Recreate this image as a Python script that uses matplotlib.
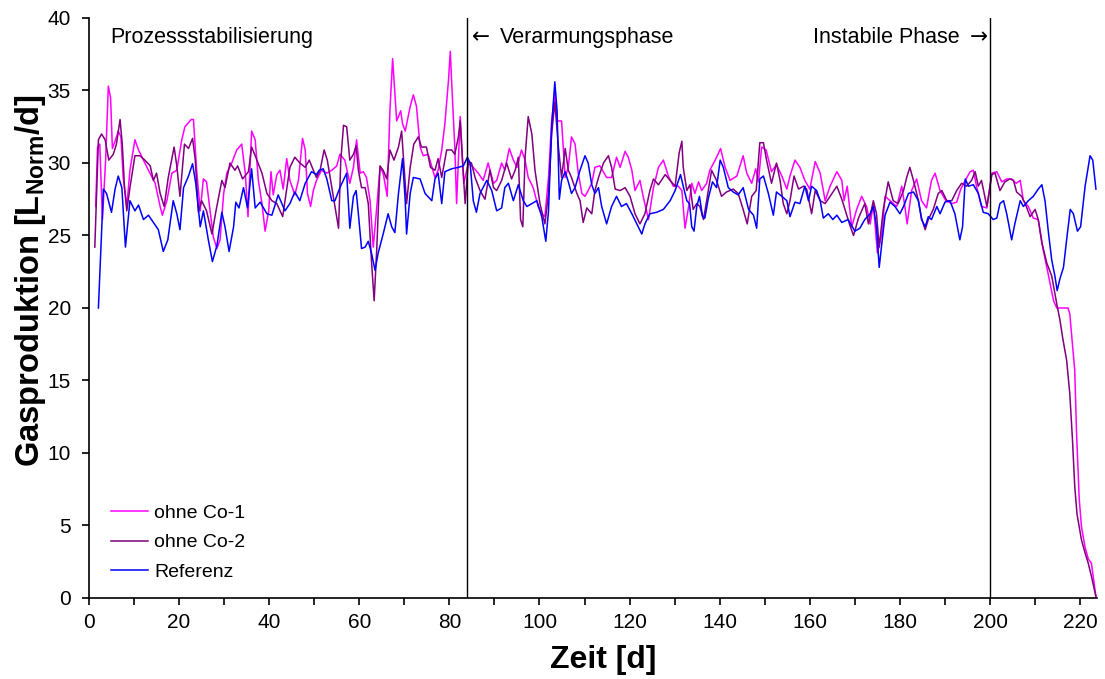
import matplotlib
matplotlib.use("Agg")
import matplotlib.pyplot as plt
from matplotlib.ticker import MultipleLocator

plt.rcParams['font.family'] = ['Liberation Sans', 'DejaVu Sans']
plt.rcParams['mathtext.fontset'] = 'custom'
plt.rcParams['mathtext.rm'] = 'Liberation Sans'
plt.rcParams['mathtext.bf'] = 'Liberation Sans:bold'

# ---------------- data ----------------
ref_day = [2.1, 3.2, 3.9, 5.0, 5.8, 6.5, 7.3, 8.1, 9.1, 10.2, 11.0, 12.1, 13.2, 14.3, 15.4, 16.5, 17.5, 18.7, 19.5, 20.2,
           21.0, 22.1, 23.0, 23.7, 24.7, 25.4, 26.5, 27.4, 28.4, 29.5, 30.2, 31.1, 32.1, 32.6, 33.3, 34.3, 35.2, 36.1, 36.9, 38.0,
           39.5, 40.6, 42.0, 43.5, 44.6, 45.7, 46.8, 48.0, 49.4, 50.5, 51.1, 52.0, 52.8, 53.9, 54.6, 55.7, 57.2, 57.9, 58.7, 59.3,
           59.8, 60.5, 61.3, 62.0, 62.7, 63.5, 64.2, 65.3, 66.4, 67.2, 67.9, 68.7, 69.6, 70.2, 70.5, 71.3, 72.0, 73.5, 74.6, 76.1,
           76.8, 77.5, 78.3, 79.0, 80.5, 82.0, 83.1, 84.0, 84.6, 85.3, 86.0, 86.8, 88.3, 89.4, 90.5, 91.6, 92.3, 93.1, 94.2, 95.3,
           96.4, 97.2, 98.3, 99.4, 100.5, 101.4, 102.0, 102.7, 103.4, 103.9, 104.4, 104.9, 105.7, 106.4, 107.1, 107.9, 109.0, 110.1, 110.8, 111.6,
           112.3, 113.1, 113.8, 114.9, 116.0, 117.1, 118.2, 119.3, 120.5, 121.6, 122.7, 123.4, 124.5, 126.0, 127.5, 129.0, 130.1, 131.3, 131.9, 132.7,
           133.3, 133.8, 134.3, 134.9, 135.5, 136.2, 136.7, 137.5, 138.4, 139.3, 140.1, 140.8, 141.9, 143.0, 144.1, 145.2, 146.4, 147.5, 148.2, 148.9,
           149.7, 150.8, 151.9, 152.6, 153.8, 154.9, 155.6, 156.7, 157.8, 158.9, 159.7, 160.4, 161.5, 162.3, 163.0, 164.1, 165.1, 166.0, 167.1, 168.5,
           170.0, 171.1, 172.2, 173.4, 174.1, 174.8, 175.4, 176.0, 176.7, 177.8, 178.9, 180.0, 180.8, 181.9, 183.0, 184.1, 184.8, 185.6, 186.3, 187.0,
           188.2, 188.9, 190.0, 191.1, 192.2, 193.3, 193.9, 194.5, 195.2, 196.3, 197.4, 198.5, 199.6, 200.7, 201.5, 202.2, 203.0, 203.7, 204.8, 205.5,
           206.7, 207.4, 208.5, 209.6, 210.7, 211.5, 212.2, 213.0, 213.7, 214.4, 214.9, 215.5, 216.3, 217.0, 217.8, 218.5, 219.4, 220.1, 221.1, 222.2,
           222.8, 223.5]
ref_val = [20.0, 28.2, 27.9, 26.6, 28.2, 29.1, 28.3, 24.2, 27.4, 26.7, 27.1, 26.1, 26.4, 25.9, 25.4, 23.9, 24.7, 27.4, 26.5, 25.4,
           28.3, 29.1, 29.95, 28.6, 25.6, 26.7, 24.7, 23.2, 24.3, 26.6, 25.6, 23.9, 25.6, 27.3, 26.9, 28.3, 26.9, 29.6, 26.9, 27.3,
           26.5, 26.4, 27.8, 26.7, 27.2, 28.0, 27.4, 28.6, 29.4, 29.2, 29.5, 29.6, 28.9, 27.4, 27.4, 28.3, 29.3, 25.5, 27.7, 28.1,
           26.5, 24.1, 24.2, 24.6, 23.8, 22.6, 23.8, 25.1, 26.5, 25.6, 25.2, 27.9, 30.3, 27.4, 25.1, 27.9, 29.0, 28.9, 27.9, 27.4,
           28.9, 29.3, 27.2, 29.4, 29.6, 29.7, 29.8, 30.4, 30.0, 27.4, 26.6, 27.9, 28.8, 28.1, 26.7, 26.9, 28.3, 28.6, 27.4, 28.5,
           27.4, 27.0, 27.2, 27.4, 26.3, 24.6, 26.7, 32.5, 35.6, 33.6, 27.5, 28.8, 29.4, 28.7, 27.9, 28.3, 29.5, 30.5, 30.0, 28.5,
           27.9, 28.3, 27.0, 25.8, 27.0, 27.7, 27.0, 27.2, 26.5, 25.8, 25.1, 25.8, 26.5, 26.6, 26.8, 27.4, 28.1, 29.2, 28.4, 27.4,
           27.2, 25.6, 25.3, 27.0, 27.7, 26.3, 26.2, 27.6, 28.7, 28.3, 30.2, 29.7, 28.3, 28.0, 27.8, 28.3, 26.8, 26.4, 25.5, 28.9,
           29.1, 27.9, 26.4, 28.0, 27.7, 27.4, 26.3, 27.3, 27.2, 28.4, 27.4, 28.4, 28.1, 27.4, 26.2, 26.5, 26.1, 26.4, 25.9, 26.1,
           25.3, 25.5, 26.1, 26.5, 27.0, 25.6, 22.8, 24.5, 26.4, 27.3, 27.0, 26.5, 27.0, 27.9, 28.0, 27.4, 26.1, 25.6, 26.3, 26.1,
           27.0, 26.5, 27.3, 27.4, 26.5, 24.7, 25.6, 28.9, 28.4, 28.5, 27.9, 26.6, 26.5, 26.1, 26.2, 27.2, 27.4, 26.5, 24.7, 25.8,
           27.4, 27.0, 27.4, 27.7, 28.2, 28.5, 27.4, 25.1, 23.3, 22.2, 21.2, 22.0, 22.8, 24.7, 26.8, 26.5, 25.3, 25.6, 28.4, 30.5,
           30.2, 28.2]

co1_day = [1.5, 1.9, 2.4, 3.0, 3.7, 4.3, 4.8, 5.2, 5.9, 6.5, 7.1, 7.6, 8.4, 9.1, 10.2, 11.0, 12.1, 13.2, 14.7, 15.8,
           16.3, 17.3, 18.4, 19.5, 20.6, 21.3, 22.7, 23.2, 23.9, 24.7, 25.4, 26.1, 26.9, 27.6, 28.4, 29.1, 29.9, 30.6, 31.7, 32.8,
           33.9, 34.7, 35.3, 36.1, 36.9, 37.6, 38.4, 39.1, 39.9, 40.4, 40.9, 41.7, 42.4, 43.1, 43.9, 44.6, 45.7, 46.5, 47.4, 48.0,
           48.5, 49.2, 49.8, 50.5, 51.6, 52.8, 53.9, 55.0, 55.7, 56.8, 57.9, 58.7, 59.4, 60.2, 60.9, 61.6, 62.4, 63.1, 63.9, 64.6,
           65.3, 66.2, 66.8, 67.4, 67.9, 68.3, 69.2, 69.6, 70.2, 71.3, 72.0, 72.7, 73.5, 74.2, 75.3, 76.8, 77.5, 78.3, 79.0, 79.8,
           80.2, 80.7, 81.2, 81.6, 82.4, 83.2, 84.2, 85.3, 86.4, 87.5, 88.6, 89.8, 90.5, 91.6, 92.3, 93.3, 94.2, 95.0, 96.0, 96.8,
           97.5, 98.6, 99.7, 100.5, 101.2, 102.0, 102.7, 103.4, 103.9, 104.9, 105.7, 106.4, 107.1, 107.9, 108.6, 109.4, 110.1, 110.8, 111.6, 112.3,
           113.4, 114.9, 116.0, 117.1, 117.9, 119.0, 119.7, 120.5, 121.2, 122.3, 123.0, 124.2, 125.3, 126.4, 127.5, 128.6, 129.7, 130.8, 131.6, 132.3,
           133.0, 133.8, 134.5, 135.3, 136.0, 137.1, 137.8, 139.0, 140.2, 141.2, 142.3, 143.8, 145.2, 146.0, 147.1, 148.0, 148.6, 149.3, 150.3, 151.5,
           152.6, 153.8, 154.9, 155.6, 156.7, 157.8, 158.9, 160.0, 161.2, 162.3, 163.4, 164.5, 166.0, 167.1, 167.6, 168.3, 169.3, 170.4, 171.5, 172.6,
           173.4, 174.1, 175.0, 176.0, 176.7, 177.8, 179.3, 180.4, 181.1, 181.6, 182.6, 183.7, 184.8, 185.9, 187.0, 187.8, 188.9, 190.2, 191.5, 192.6,
           193.5, 194.5, 195.6, 196.3, 197.0, 198.1, 199.3, 200.4, 201.5, 202.6, 203.7, 204.8, 205.8, 206.7, 207.4, 208.5, 209.6, 210.7, 211.8, 213.0,
           214.1, 214.8, 216.0, 217.3, 217.7, 218.8, 219.2, 219.8, 220.3, 221.1, 221.8, 222.5, 222.9, 223.5]
co1_val = [27.0, 31.1, 31.3, 26.1, 30.2, 35.3, 34.5, 31.0, 31.6, 32.2, 31.8, 29.0, 27.0, 29.5, 31.6, 30.9, 30.2, 29.5, 28.6, 27.0,
           26.4, 27.4, 29.3, 29.5, 31.6, 32.5, 33.0, 33.0, 29.5, 26.7, 28.9, 28.7, 26.7, 24.9, 24.1, 24.7, 27.9, 29.3, 30.0, 30.9,
           31.3, 29.3, 26.3, 32.2, 31.6, 28.8, 27.2, 25.3, 26.7, 29.4, 27.8, 29.2, 29.5, 28.2, 30.3, 28.8, 27.8, 28.8, 31.7, 30.9,
           27.9, 27.0, 28.1, 28.8, 29.5, 29.3, 29.5, 29.8, 30.6, 30.2, 28.6, 29.7, 31.6, 29.3, 29.4, 29.0, 27.4, 24.2, 27.0, 29.7,
           29.3, 27.7, 33.6, 37.2, 34.8, 32.9, 33.6, 32.7, 32.2, 33.9, 34.7, 33.9, 31.1, 30.5, 30.6, 29.0, 29.5, 30.9, 32.7, 35.7,
           37.7, 34.3, 31.1, 27.2, 33.2, 28.6, 30.0, 29.7, 29.3, 28.8, 30.0, 28.6, 28.8, 30.0, 29.5, 31.0, 30.2, 29.7, 30.9, 30.2,
           29.0, 28.3, 27.0, 26.5, 26.3, 29.0, 32.9, 34.8, 32.9, 32.9, 29.0, 29.7, 31.8, 31.3, 29.3, 27.9, 27.7, 28.1, 28.6, 29.7,
           29.8, 29.0, 29.0, 30.4, 29.7, 30.8, 30.4, 29.5, 28.1, 28.8, 27.7, 26.1, 28.3, 29.7, 30.2, 29.1, 28.4, 28.4, 28.1, 25.5,
           26.8, 28.6, 27.9, 28.7, 28.1, 28.6, 29.5, 30.2, 31.0, 29.7, 28.8, 29.1, 30.5, 29.3, 28.6, 29.6, 28.7, 31.1, 30.9, 29.4,
           29.9, 29.1, 28.2, 29.1, 30.2, 29.7, 28.8, 28.2, 30.1, 29.3, 27.4, 28.4, 29.4, 28.8, 27.4, 28.4, 25.6, 26.8, 27.7, 27.0,
           25.8, 27.2, 23.8, 25.1, 27.7, 27.4, 27.0, 28.4, 27.0, 25.8, 28.1, 28.9, 27.4, 26.9, 28.8, 29.3, 28.1, 27.4, 27.2, 27.3,
           28.2, 28.8, 29.4, 29.5, 28.4, 27.0, 26.9, 29.3, 29.4, 28.7, 28.9, 28.9, 28.6, 28.8, 27.4, 27.0, 26.2, 26.1, 24.0, 22.2,
           20.5, 20.0, 20.0, 20.0, 19.6, 15.7, 11.4, 6.8, 4.9, 3.5, 2.7, 2.4, 1.5, 0.1]

co2_day = [1.3, 2.1, 2.8, 3.6, 4.4, 5.4, 6.1, 6.9, 7.4, 7.9, 8.4, 9.1, 10.2, 11.3, 12.4, 13.6, 14.3, 15.0, 15.8, 16.7,
           17.6, 18.9, 19.5, 20.2, 21.2, 22.1, 23.0, 23.6, 24.3, 25.0, 26.1, 27.3, 28.2, 29.5, 30.2, 31.3, 32.4, 33.0, 34.1, 35.4,
           36.1, 36.9, 38.4, 39.5, 40.6, 41.7, 43.0, 43.9, 44.6, 45.7, 46.8, 48.0, 48.9, 49.8, 50.5, 51.3, 52.2, 52.9, 53.9, 54.6,
           55.4, 55.9, 56.5, 57.2, 57.9, 58.7, 59.3, 59.8, 60.5, 61.3, 62.0, 62.7, 63.3, 63.9, 64.6, 65.3, 66.1, 66.8, 67.7, 68.7,
           69.4, 70.0, 70.5, 71.3, 72.1, 73.1, 73.8, 74.9, 75.8, 76.8, 77.5, 78.3, 79.4, 80.5, 81.2, 82.0, 82.4, 82.9, 83.5, 84.2,
           84.9, 85.7, 86.8, 87.9, 89.0, 89.8, 90.5, 91.6, 92.7, 93.8, 94.6, 95.3, 95.8, 96.3, 96.8, 97.5, 98.3, 99.0, 100.1, 101.2,
           102.0, 102.7, 103.4, 104.2, 104.9, 105.7, 106.4, 107.1, 108.3, 109.0, 109.7, 110.5, 111.6, 112.3, 113.1, 114.2, 115.3, 116.0, 116.8, 117.9,
           119.0, 120.1, 121.2, 122.3, 123.4, 124.5, 125.3, 126.4, 127.9, 129.0, 130.1, 131.0, 131.6, 131.9, 132.7, 133.4, 134.1, 134.9, 135.6, 136.4,
           137.1, 138.2, 139.3, 140.4, 141.5, 143.0, 144.1, 145.2, 146.1, 147.1, 148.1, 148.9, 149.7, 150.4, 151.5, 152.6, 153.4, 154.1, 154.9, 155.6,
           156.5, 157.5, 158.6, 159.3, 160.4, 161.2, 162.3, 163.4, 164.5, 166.0, 167.1, 167.8, 168.9, 169.7, 170.8, 172.2, 173.0, 174.1, 174.8, 175.4,
           176.3, 177.4, 178.5, 179.6, 180.8, 181.5, 182.2, 183.0, 184.1, 184.8, 185.6, 186.3, 187.4, 188.5, 189.3, 190.4, 191.5, 192.6, 193.7, 194.8,
           195.9, 196.7, 197.4, 198.1, 199.3, 200.4, 201.1, 202.2, 203.3, 204.4, 205.2, 205.9, 207.0, 207.8, 208.9, 210.0, 210.7, 211.5, 212.6, 213.7,
           214.8, 215.5, 216.2, 217.0, 217.7, 218.3, 218.8, 219.3, 220.3, 221.1, 221.8, 222.5, 223.5]
co2_val = [24.2, 31.6, 32.0, 31.6, 30.2, 30.6, 31.3, 33.0, 31.3, 28.3, 26.7, 28.3, 30.5, 30.5, 30.2, 29.8, 28.8, 29.3, 27.9, 27.0,
           29.0, 31.1, 29.8, 27.7, 31.3, 31.0, 31.7, 30.2, 26.6, 27.4, 26.7, 25.1, 26.7, 28.8, 28.3, 30.0, 29.5, 29.8, 28.9, 29.4,
           31.1, 30.5, 29.3, 27.9, 27.4, 27.2, 26.3, 28.2, 29.7, 30.4, 30.0, 29.7, 30.2, 29.5, 29.0, 29.5, 30.9, 30.2, 28.3, 27.0,
           25.5, 30.2, 32.6, 32.5, 30.2, 30.6, 31.2, 29.5, 28.3, 28.3, 27.2, 23.3, 20.5, 24.2, 29.8, 29.5, 28.9, 30.9, 30.2, 31.1,
           32.2, 29.5, 27.2, 29.7, 31.3, 31.8, 31.1, 31.1, 29.7, 29.5, 30.3, 29.0, 30.9, 30.9, 30.6, 31.8, 32.9, 30.2, 27.2, 30.1,
           30.0, 29.0, 28.1, 27.5, 29.5, 28.3, 28.1, 28.8, 30.0, 28.9, 29.5, 30.4, 26.1, 25.6, 30.4, 33.2, 32.0, 29.5, 27.2, 25.8,
           27.9, 32.0, 34.2, 31.1, 29.0, 31.0, 29.5, 29.0, 27.9, 27.4, 25.9, 26.9, 26.5, 28.1, 29.0, 30.0, 30.5, 29.7, 28.2, 28.1,
           28.3, 27.7, 26.5, 25.8, 26.5, 28.1, 28.9, 28.5, 29.2, 28.8, 28.4, 30.7, 31.5, 29.7, 28.1, 28.5, 26.8, 27.2, 27.0, 26.1,
           27.4, 29.5, 28.8, 27.7, 28.0, 28.2, 27.9, 26.8, 25.8, 27.7, 28.1, 31.4, 31.4, 30.2, 28.6, 30.0, 28.8, 27.2, 26.5, 27.4,
           29.1, 28.2, 28.4, 28.2, 26.5, 28.1, 27.4, 27.2, 27.7, 28.4, 27.5, 26.8, 25.7, 25.0, 26.2, 27.2, 25.8, 27.4, 26.5, 24.2,
           26.8, 28.7, 27.4, 27.2, 28.1, 29.0, 29.7, 28.8, 27.4, 26.2, 25.4, 26.1, 26.8, 27.9, 28.1, 27.4, 27.4, 28.1, 28.6, 28.4,
           28.8, 29.4, 28.4, 28.8, 27.0, 29.2, 29.3, 28.1, 28.7, 28.9, 28.8, 28.0, 27.7, 27.2, 26.3, 26.8, 26.1, 24.5, 23.1, 22.2,
           20.3, 19.2, 17.8, 16.4, 14.1, 10.9, 7.7, 5.8, 4.0, 3.1, 2.4, 1.5, 0.1]

series_labels = ["ohne Co-1", "ohne Co-2", "Referenz"]
phase_bounds = [84, 200]
phase_texts = ["Prozessstabilisierung", "Verarmungsphase", "Instabile Phase"]
arrow_left = "\u2190"
arrow_right = "\u2192"

# ---------------- figure ----------------
fig = plt.figure(figsize=(11.05, 6.79), dpi=100)
ax = fig.add_axes([0.0805, 0.1193, 0.9125, 0.8542])

lw = 1.1
kw = dict(lw=lw, solid_joinstyle="round")
ax.plot(co1_day, co1_val, color="#FF00FF", label=series_labels[0], **kw)
ax.plot(co2_day, co2_val, color="#800080", label=series_labels[1], **kw)
ax.plot(ref_day, ref_val, color="#0000FF", label=series_labels[2], **kw)

for b in phase_bounds:
    ax.axvline(b, color="black", lw=1.0)

ax.set_xlim(0, 223.8)
ax.set_ylim(0, 40)
ax.xaxis.set_major_locator(MultipleLocator(20))
ax.xaxis.set_minor_locator(MultipleLocator(10))
ax.yaxis.set_major_locator(MultipleLocator(5))

for s in ["top", "right"]:
    ax.spines[s].set_visible(False)
for s in ["left", "bottom"]:
    ax.spines[s].set_linewidth(1.2)

ax.tick_params(axis="y", which="major", direction="out", length=5, width=1.2, labelsize=15, pad=8)
ax.tick_params(axis="x", which="major", direction="out", length=5, width=1.2, labelsize=15, pad=6)
ax.tick_params(axis="x", which="minor", direction="out", length=5, width=1.2)

ax.set_xlabel("Zeit [d]", fontsize=23, fontweight="bold")
ax.set_ylabel(r"Gasproduktion [L$_{\mathbf{Norm}}$/d]", fontsize=23.5, fontweight="bold")
ax.xaxis.set_label_coords(0.51, -0.081)
ax.yaxis.set_label_coords(-0.0407, 0.548)

tfs = 15.5
ybase = 38.27
ax.text(4.7, ybase, phase_texts[0], fontsize=tfs, va="baseline", ha="left")
ax.text(85.0, ybase, arrow_left, fontsize=tfs, va="baseline", ha="left", family=["DejaVu Sans"])
ax.text(91.2, ybase, phase_texts[1], fontsize=tfs, va="baseline", ha="left")
ax.text(193.3, ybase, phase_texts[2], fontsize=tfs, va="baseline", ha="right")
ax.text(199.6, ybase, arrow_right, fontsize=tfs, va="baseline", ha="right", family=["DejaVu Sans"])

leg = ax.legend(loc="lower left", bbox_to_anchor=(0.0215, 0.03), frameon=False, fontsize=14,
                handlelength=1.9, handletextpad=0.35, labelspacing=0.6, borderaxespad=0.0, borderpad=0.0)

fig.savefig("out.png", dpi=100)
